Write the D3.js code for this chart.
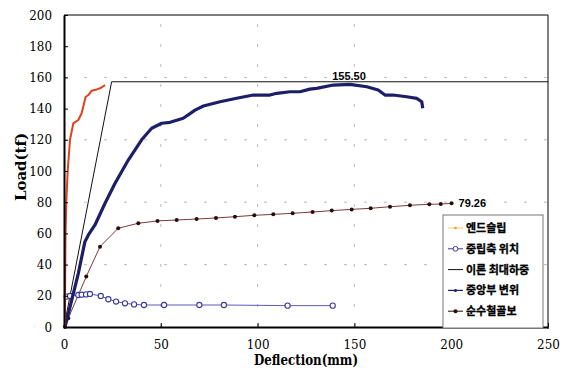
<!DOCTYPE html>
<html>
<head>
<meta charset="utf-8">
<script src="https://cdn.jsdelivr.net/npm/d3@7"></script>
<style>
  body { margin: 0; background: #fff; }
  svg { display: block; }
</style>
</head>
<body>
<svg id="chart" width="573" height="370"></svg>
<script>
// end slip (red)
var slipX = [0.5, 0.6, 0.8, 1.2, 1.9, 3.1, 4.8, 7.4, 9.1, 11.2, 12.6, 14.3, 16.9, 18.6, 21.2];
var slipY = [0, 30, 60, 81, 100, 120, 130.5, 132.7, 137, 147.6, 148.7, 151.5, 152.3, 153, 155];

// neutral axis position (blue circles)
var naX = [1.4, 3.1, 7.4, 9.1, 11.4, 13.4, 19, 22.9, 26.9, 31.5, 36.2, 41.3, 51.7, 69.9, 82.6, 115.5, 138.8];
var naY = [19.5, 19.9, 20.5, 20.7, 20.9, 21.2, 19.9, 17.8, 16.3, 15.2, 14.5, 14.1, 14.1, 14.1, 14.1, 13.7, 13.7];

// theoretical max load
var thX = [0, 24.6, 250];
var thY = [0, 157.2, 157.2];

// center deflection (navy)
var cdX = [0.5, 4, 7.4, 10.8, 12.6, 16, 21.2, 26.3, 33.2, 40.1, 45.3, 50.5, 54.8, 61.6, 67.7, 72, 80.6, 89.2, 97.8, 106.4, 109.9, 116.7, 121.9, 127, 130.5, 139.1, 147.7, 156.4, 162.3, 165.8, 170, 177, 182.2, 184.8, 185.3];
var cdY = [0, 17.3, 34.4, 54.7, 59, 65.4, 79.3, 92, 107, 120, 127.4, 130.6, 131.2, 133.8, 139, 141.7, 144.4, 146.6, 148.7, 148.7, 149.8, 150.8, 150.8, 152.5, 153, 155.1, 155.5, 154, 151.9, 148.7, 148.7, 147.6, 146.6, 144.4, 140.2];

// pure steel beam (brown dots)
var sbX = [0.5, 2.2, 11.5, 18.6, 28, 38.4, 48.3, 58.2, 68.5, 78.5, 88.3, 98.3, 108.1, 118.1, 128.4, 138.3, 148.6, 158.4, 168.4, 178.7, 188.7, 194.6, 200.2];
var sbY = [0, 5.6, 32.3, 51.5, 63.3, 66.5, 68, 68.6, 69.2, 69.9, 70.7, 71.6, 72.2, 72.9, 73.7, 74.6, 75.4, 76.1, 77.1, 78, 78.7, 78.8, 79.26];

var xTicks = [0, 50, 100, 150, 200, 250];
var yTicks = [0, 20, 40, 60, 80, 100, 120, 140, 160, 180, 200];
var gridY = [40, 80, 120, 160];
var gridX = [50, 100, 150];
var legendNames = ['엔드슬립', '중립축 위치', '이론 최대하중', '중앙부 변위', '순수철골보'];
var labelMax = '155.50';
var labelSteel = '79.26';

var SERIF = "'DejaVu Serif'";

function zip(a, b) { return a.map(function(v, i) { return [v, b[i]]; }); }

var svg = d3.select('#chart');
var x = d3.scaleLinear().domain([0, 250]).range([64, 548]);
var y = d3.scaleLinear().domain([0, 200]).range([327, 15]);

// faint dashed grid
svg.selectAll('.gy').data(gridY).enter().append('line')
  .attr('x1', x(0)).attr('x2', x(250))
  .attr('y1', function(d) { return y(d); }).attr('y2', function(d) { return y(d); })
  .attr('stroke', '#bbb').attr('stroke-dasharray', '3,17');
svg.selectAll('.gx').data(gridX).enter().append('line')
  .attr('y1', y(0)).attr('y2', y(200))
  .attr('x1', function(d) { return x(d); }).attr('x2', function(d) { return x(d); })
  .attr('stroke', '#bbb').attr('stroke-dasharray', '3,17');

// top / right border
svg.append('line').attr('x1', x(0)).attr('x2', x(250)).attr('y1', y(200)).attr('y2', y(200)).attr('stroke', '#000');
svg.append('line').attr('x1', x(250)).attr('x2', x(250)).attr('y1', y(200)).attr('y2', y(0) + 2).attr('stroke', '#000');

var line = d3.line().x(function(d) { return x(d[0]); }).y(function(d) { return y(d[1]); });

// theoretical
svg.append('path').datum(zip(thX, thY)).attr('d', line)
  .attr('fill', 'none').attr('stroke', '#111').attr('stroke-width', 1);

// pure steel beam
svg.append('path').datum(zip(sbX, sbY)).attr('d', line)
  .attr('fill', 'none').attr('stroke', '#7a3a3a').attr('stroke-width', 1);
svg.selectAll('.sb').data(zip(sbX, sbY)).enter().append('circle')
  .attr('cx', function(d) { return x(d[0]); }).attr('cy', function(d) { return y(d[1]); })
  .attr('r', 2).attr('fill', '#2a0a0a');

// neutral axis
svg.append('path').datum(zip(naX, naY)).attr('d', line)
  .attr('fill', 'none').attr('stroke', '#5a5ac0').attr('stroke-width', 1);
svg.selectAll('.na').data(zip(naX, naY)).enter().append('circle')
  .attr('cx', function(d) { return x(d[0]); }).attr('cy', function(d) { return y(d[1]); })
  .attr('r', 2.6).attr('fill', '#fff').attr('stroke', '#3a3a9a').attr('stroke-width', 1.1);

// center deflection
svg.append('path').datum(zip(cdX, cdY)).attr('d', line)
  .attr('fill', 'none').attr('stroke', '#1c1f68').attr('stroke-width', 3.2)
  .attr('stroke-linejoin', 'round');

// end slip
svg.append('path').datum(zip(slipX, slipY)).attr('d', line)
  .attr('fill', 'none').attr('stroke', '#e2401c').attr('stroke-width', 2)
  .attr('stroke-linejoin', 'round');

// axes
var yAxis = svg.append('g').attr('transform', 'translate(' + x(0) + ',0)')
  .call(d3.axisLeft(y).tickValues(yTicks).tickSizeInner(-4).tickSizeOuter(0).tickPadding(12));
var xAxis = svg.append('g').attr('transform', 'translate(0,' + y(0) + ')')
  .call(d3.axisBottom(x).tickValues(xTicks).tickSizeInner(-4).tickSizeOuter(0).tickPadding(13));
[yAxis, xAxis].forEach(function(a) {
  a.attr('font-family', SERIF).attr('font-size', 13);
  a.select('.domain').attr('stroke', '#000').attr('stroke-width', 2);
  a.selectAll('.tick line').attr('stroke', '#000');
  a.selectAll('text').attr('fill', '#000')
    .attr('textLength', function(d) { return String(d).length * 7.6; })
    .attr('lengthAdjust', 'spacingAndGlyphs');
});

// titles
svg.append('text').attr('x', x(125)).attr('y', 365).attr('text-anchor', 'middle')
  .attr('font-family', SERIF).attr('font-weight', 'bold').attr('font-size', 15)
  .attr('textLength', 104).attr('lengthAdjust', 'spacingAndGlyphs')
  .text('Deflection(mm)');
svg.append('text').attr('transform', 'translate(26,167) rotate(-90)').attr('text-anchor', 'middle')
  .attr('font-family', SERIF).attr('font-weight', 'bold').attr('font-size', 15)
  .attr('textLength', 68).attr('lengthAdjust', 'spacingAndGlyphs')
  .text('Load(tf)');

// value labels
svg.append('text').attr('x', 349).attr('y', 80).attr('text-anchor', 'middle')
  .attr('font-family', 'Liberation Sans').attr('font-weight', 'bold').attr('font-size', 11)
  .text(labelMax);
svg.append('text').attr('x', x(sbX[sbX.length - 1]) + 7).attr('y', y(sbY[sbY.length - 1]) + 4)
  .attr('font-family', 'Liberation Sans').attr('font-weight', 'bold').attr('font-size', 11)
  .text(labelSteel);

// legend
var lg = svg.append('g').attr('transform', 'translate(443,215)');
lg.append('rect').attr('width', 100).attr('height', 113).attr('fill', '#fff')
  .attr('stroke', '#777').attr('stroke-width', 1);
var rows = lg.selectAll('.row').data(legendNames).enter().append('g')
  .attr('transform', function(d, i) { return 'translate(0,' + (13 + i * 20.8) + ')'; });
rows.append('text').attr('x', 23).attr('y', 4)
  .attr('font-family', "'Noto Sans CJK KR'").attr('font-weight', 'bold').attr('font-size', 11)
  .attr('fill', '#000').attr('stroke', '#000').attr('stroke-width', 0.3)
  .text(function(d) { return d; });
var sym = [
  {stroke: '#f5d060', w: 1, dot: '#f0a020', r: 1.3, open: false},
  {stroke: '#3a3a9a', w: 1, dot: '#3a3a9a', r: 2.4, open: true},
  {stroke: '#111', w: 1, dot: null},
  {stroke: '#1c1f68', w: 1.2, dot: '#1c1f68', r: 1.5, open: false},
  {stroke: '#2a0a0a', w: 1, dot: '#2a0a0a', r: 2, open: false}
];
rows.each(function(d, i) {
  var g = d3.select(this), s = sym[i];
  g.append('line').attr('x1', 5).attr('x2', 20).attr('y1', 0).attr('y2', 0)
    .attr('stroke', s.stroke).attr('stroke-width', s.w);
  if (s.dot) {
    g.append('circle').attr('cx', 12.5).attr('cy', 0).attr('r', s.r)
      .attr('fill', s.open ? '#fff' : s.dot).attr('stroke', s.open ? s.dot : 'none');
  }
});
</script>
</body>
</html>
